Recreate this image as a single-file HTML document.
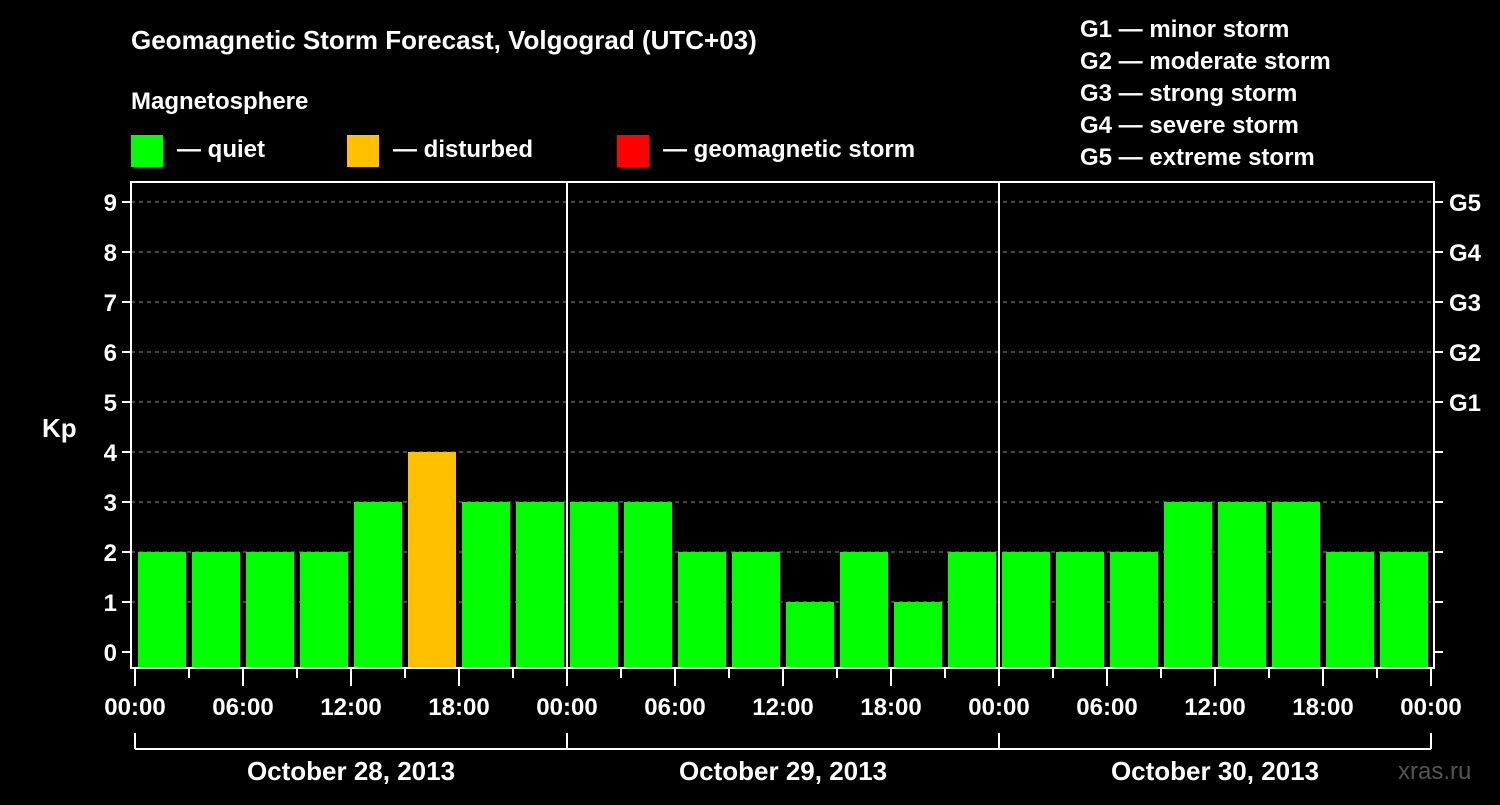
<!DOCTYPE html>
<html><head><meta charset="utf-8"><style>
body{margin:0;background:#000;width:1500px;height:800px;overflow:hidden}
svg text{font-family:"Liberation Sans",sans-serif;font-weight:bold;fill:#fff}
</style></head><body>
<svg id="c" width="1500" height="800">
<text x="131" y="49" font-size="26">Geomagnetic Storm Forecast, Volgograd (UTC+03)</text>
<text x="131" y="109" font-size="24">Magnetosphere</text>
<rect x="131" y="135" width="32" height="32" fill="#00ff00"/>
<text x="177" y="157" font-size="24">— quiet</text>
<rect x="347" y="135" width="32" height="32" fill="#ffc000"/>
<text x="393" y="157" font-size="24">— disturbed</text>
<rect x="617" y="135" width="32" height="32" fill="#ff0000"/>
<text x="663" y="157" font-size="24">— geomagnetic storm</text>
<g font-size="24">
<text x="1080" y="37">G1 — minor storm</text>
<text x="1080" y="69">G2 — moderate storm</text>
<text x="1080" y="101">G3 — strong storm</text>
<text x="1080" y="133">G4 — severe storm</text>
<text x="1080" y="165">G5 — extreme storm</text>
</g>
<text x="42" y="437" font-size="26">Kp</text>
<text x="1398" y="779" font-size="24" fill="#555" style="fill:#555;font-weight:normal">xras.ru</text>
<g id="plot"></g>
</svg>
<script>
const values=[2,2,2,2,3,4,3,3, 3,3,2,2,1,2,1,2, 2,2,2,3,3,3,2,2];
const dayLabels=["October 28, 2013","October 29, 2013","October 30, 2013"];
const hourLabels=["00:00","06:00","12:00","18:00"];
const gLabels=["G1","G2","G3","G4","G5"];
const NS="http://www.w3.org/2000/svg";
const g=document.getElementById('plot');
const X0=135,STEP=54,Y0=652,UNIT=50,L=131,R=1434,T=182,B=668;
const xs=i=>X0+i*STEP, ys=v=>Y0-v*UNIT;
function mk(t,a,p){const e=document.createElementNS(NS,t);for(const k in a)e.setAttribute(k,a[k]);(p||g).appendChild(e);return e;}
for(let k=0;k<=9;k++){
 const y=ys(k);
 if(k>0){const l=mk('line',{x1:L,x2:R,y1:y,y2:y,stroke:'#888','stroke-dasharray':'4,4'});
 
 }
 mk('line',{x1:L-9,x2:L,y1:y,y2:y,stroke:'#fff','stroke-width':2});
 mk('line',{x1:R,x2:R+9,y1:y,y2:y,stroke:'#fff','stroke-width':2});
 const t=mk('text',{x:L-14,y:y+9,'font-size':24,'text-anchor':'end'});t.textContent=k;
 
 
 if(k>=5){const r=mk('text',{x:R+15,y:y+9,'font-size':24});r.textContent=gLabels[k-5];
 
 }
}
values.forEach((v,i)=>{
 const c=v>=5?'#ff0000':(v>=4?'#ffc000':'#00ff00');
 const b=mk('rect',{x:xs(i)+3,y:ys(v),width:STEP-6,height:B-ys(v),fill:c});
 
 
});
mk('rect',{x:L,y:T,width:R-L,height:B-T,fill:'none',stroke:'#fff','stroke-width':2});
for(let d=1;d<3;d++){mk('line',{x1:xs(d*8),x2:xs(d*8),y1:T,y2:B,stroke:'#fff','stroke-width':2});}
for(let i=0;i<=24;i++){
 const x=xs(i);
 mk('line',{x1:x,x2:x,y1:B,y2:i%2==0?686:678,stroke:'#fff','stroke-width':2});
 if(i%2==0){const t=mk('text',{x:x,y:715,'font-size':24,'text-anchor':'middle'});t.textContent=hourLabels[(i/2)%4];
 
 }
}
mk('line',{x1:xs(0),x2:xs(24),y1:749,y2:749,stroke:'#fff','stroke-width':2});
for(let d=0;d<=3;d++)mk('line',{x1:xs(d*8),x2:xs(d*8),y1:733,y2:749,stroke:'#fff','stroke-width':2});
dayLabels.forEach((s,d)=>{const t=mk('text',{x:xs(d*8+4),y:780,'font-size':26,'text-anchor':'middle'});t.textContent=s;
 
 });
</script>
</body></html>
